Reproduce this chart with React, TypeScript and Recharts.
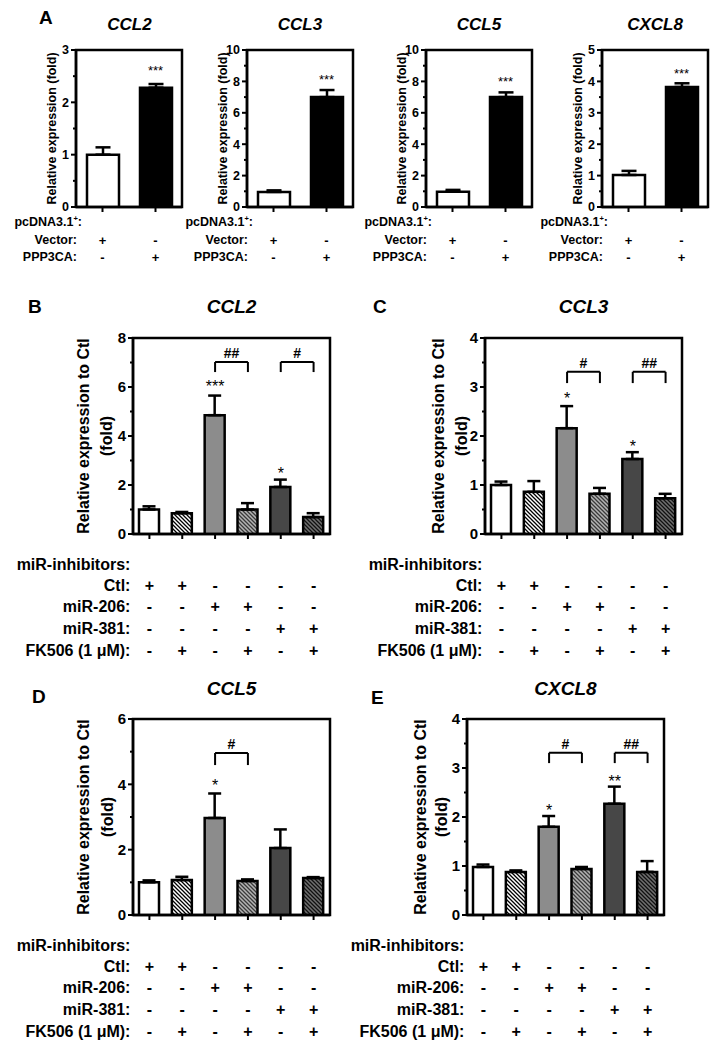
import React from 'react';
import {
  ComposedChart,
  Bar,
  Cell,
  ErrorBar,
  XAxis,
  YAxis,
  Scatter,
  ReferenceLine,
  ReferenceArea,
} from 'recharts';

const FONT = '"Liberation Sans", Arial, Helvetica, sans-serif';

// ---------- Panel A (pcDNA3.1+ vector vs PPP3CA) ----------
const aNames = ['Vector', 'PPP3CA'];
const aVectorSigns = ['+', '-'];
const aPppSigns = ['-', '+'];
const aStars = ['', '***'];

const aCcl2Mean = [1.0, 2.28];
const aCcl2Err = [0.14, 0.07];
const aCcl2StarY = [null, 2.66];
const aCcl2Ticks = [0, 0.5, 1, 1.5, 2, 2.5, 3];
const aCcl2Labels = [0, 1, 2, 3];

const aCcl3Mean = [0.96, 7.0];
const aCcl3Err = [0.1, 0.45];
const aCcl3StarY = [null, 8.28];

const aCcl5Mean = [0.97, 7.0];
const aCcl5Err = [0.12, 0.3];
const aCcl5StarY = [null, 8.15];

const aTenTicks = [0, 1, 2, 3, 4, 5, 6, 7, 8, 9, 10];
const aTenLabels = [0, 2, 4, 6, 8, 10];

const aCxcl8Mean = [1.02, 3.82];
const aCxcl8Err = [0.13, 0.12];
const aCxcl8StarY = [null, 4.33];
const aCxcl8Ticks = [0, 0.5, 1, 1.5, 2, 2.5, 3, 3.5, 4, 4.5, 5];
const aCxcl8Labels = [0, 1, 2, 3, 4, 5];

// ---------- Panels B-E (miR inhibitors +/- FK506) ----------
const groups = ['Ctl', 'Ctl+FK506', 'miR-206', 'miR-206+FK506', 'miR-381', 'miR-381+FK506'];
const ctlSigns = ['+', '+', '-', '-', '-', '-'];
const mir206Signs = ['-', '-', '+', '+', '-', '-'];
const mir381Signs = ['-', '-', '-', '-', '+', '+'];
const fkSigns = ['-', '+', '-', '+', '-', '+'];

// B: CCL2
const ccl2Mean = [1.0, 0.85, 4.85, 1.0, 1.92, 0.69];
const ccl2Err = [0.13, 0.05, 0.8, 0.26, 0.3, 0.16];
const ccl2Stars = ['', '', '***', '', '*', ''];
const ccl2StarY = [null, null, 6.16, null, 2.61, null];
const ccl2Brackets = [
  { from: 2, to: 3, top: 7.02, leg: 6.61, text: '##' },
  { from: 4, to: 5, top: 7.02, leg: 6.61, text: '#' },
];
const ccl2Ticks = [0, 1, 2, 3, 4, 5, 6, 7, 8];
const ccl2Labels = [0, 2, 4, 6, 8];

// C: CCL3
const ccl3Mean = [1.0, 0.86, 2.16, 0.82, 1.53, 0.73];
const ccl3Err = [0.07, 0.22, 0.45, 0.12, 0.14, 0.09];
const ccl3Stars = ['', '', '*', '', '*', ''];
const ccl3StarY = [null, null, 2.84, null, 1.86, null];
const ccl3Brackets = [
  { from: 2, to: 3, top: 3.31, leg: 3.08, text: '#' },
  { from: 4, to: 5, top: 3.31, leg: 3.08, text: '##' },
];

// D: CCL5
const ccl5Mean = [1.0, 1.07, 2.97, 1.04, 2.05, 1.13];
const ccl5Err = [0.06, 0.1, 0.75, 0.05, 0.57, 0.03];
const ccl5Stars = ['', '', '*', '', '', ''];
const ccl5StarY = [null, null, 4.07, null, null, null];
const ccl5Brackets = [{ from: 2, to: 3, top: 4.96, leg: 4.59, text: '#' }];
const ccl5Ticks = [0, 1, 2, 3, 4, 5, 6];
const ccl5Labels = [0, 2, 4, 6];

// E: CXCL8
const cxcl8Mean = [0.98, 0.88, 1.8, 0.94, 2.27, 0.88];
const cxcl8Err = [0.05, 0.03, 0.22, 0.04, 0.35, 0.22];
const cxcl8Stars = ['', '', '*', '', '**', ''];
const cxcl8StarY = [null, null, 2.2, null, 2.8, null];
const cxcl8Brackets = [
  { from: 2, to: 3, top: 3.31, leg: 3.1, text: '#' },
  { from: 4, to: 5, top: 3.31, leg: 3.1, text: '##' },
];

const fourTicks = [0, 0.5, 1, 1.5, 2, 2.5, 3, 3.5, 4];
const fourLabels = [0, 1, 2, 3, 4];

type Row = { label: string; sup?: string; signs?: string[]; dy: number; dx: number };
type Bracket = { from: number; to: number; top: number; leg: number; text: string };

const aRows: Row[] = [
  { label: 'pcDNA3.1', sup: '+', dy: 15, dx: -20.5 },
  { label: 'Vector:', signs: aVectorSigns, dy: 33, dx: -25.5 },
  { label: 'PPP3CA:', signs: aPppSigns, dy: 50, dx: -25.5 },
];

const bigRows: Row[] = [
  { label: 'miR-inhibitors:', dy: 30, dx: -19 },
  { label: 'Ctl:', signs: ctlSigns, dy: 51, dx: -19 },
  { label: 'miR-206:', signs: mir206Signs, dy: 72, dx: -19 },
  { label: 'miR-381:', signs: mir381Signs, dy: 94, dx: -19 },
  { label: 'FK506 (1 \u03bcM):', signs: fkSigns, dy: 116, dx: -19 },
];

interface PanelProps {
  id: string;
  left: number;
  top: number;
  width: number;
  height: number;
  marginTop: number;
  marginRight: number;
  yWidth: number;
  xHeight: number;
  names: string[];
  mean: number[];
  err: number[];
  stars: string[];
  starY: (number | null)[];
  fills: string[];
  brackets?: Bracket[];
  yMax: number;
  yTicks: number[];
  yLabels: number[];
  yTitle: string[];
  yTitleDx: number[];
  rows: Row[];
  barSize: number;
  cap: number;
  big: boolean;
}

const hatchFills = (id: string) => [
  '#ffffff',
  `url(#${id}-hw)`,
  '#8c8c8c',
  `url(#${id}-hg)`,
  '#474747',
  `url(#${id}-hd)`,
];

function Panel(p: PanelProps) {
  const fs = p.big ? 16 : 12.5;
  const tickFs = p.big ? 15 : 12.5;
  const signFs = p.big ? 16 : 13;
  const starFs = p.big ? 16 : 13;
  const txt = { fontFamily: FONT, fontWeight: 700, fill: '#000' };

  const data = p.names.map((name, i) => ({
    name,
    mean: p.mean[i],
    err: [0, p.err[i]],
    star: p.stars[i],
    starY: p.starY[i],
  }));

  const renderXTick = (t: any) => {
    const { x, y, index } = t;
    return (
      <g>
        <line x1={x} x2={x} y1={y} y2={y + 5} stroke="#000" strokeWidth={2} />
        {p.rows.map((r, k) =>
          r.signs ? (
            <text key={k} x={x} y={y + r.dy} dy="0.35em" textAnchor="middle" fontSize={signFs} {...txt}>
              {r.signs[index]}
            </text>
          ) : null
        )}
        {index === 0 &&
          p.rows.map((r, k) => (
            <text key={'l' + k} x={x + r.dx} y={y + r.dy} dy="0.35em" textAnchor="end" fontSize={fs} {...txt}>
              {r.label}
              {r.sup ? (
                <tspan dy={-fs * 0.4} fontSize={fs * 0.6}>
                  {r.sup}
                </tspan>
              ) : null}
              {r.sup ? <tspan dy={fs * 0.4}>:</tspan> : null}
            </text>
          ))}
      </g>
    );
  };

  const renderYTick = (t: any) => {
    const { x, y, payload } = t;
    const major = p.yLabels.includes(payload.value);
    const len = major ? 5 : 3;
    return (
      <g>
        <line x1={x - len} x2={x} y1={y} y2={y} stroke="#000" strokeWidth={2} />
        {major ? (
          <text x={x - len - 2} y={y} dy="0.35em" textAnchor="end" fontSize={tickFs} {...txt}>
            {payload.value}
          </text>
        ) : null}
      </g>
    );
  };

  const renderYTitle = (l: any) => {
    const vb = l.viewBox;
    const ax = vb.x + vb.width;
    const cy = vb.y + vb.height / 2;
    return (
      <g>
        {p.yTitle.map((s, k) => (
          <text
            key={k}
            transform={`translate(${ax + p.yTitleDx[k]},${cy}) rotate(-90)`}
            textAnchor="middle"
            dy="0.35em"
            fontSize={fs}
            {...txt}
          >
            {s}
          </text>
        ))}
      </g>
    );
  };

  const renderStar = (s: any) => {
    const st = s.payload && s.payload.star;
    if (!st || s.cy == null || isNaN(s.cy)) return <g />;
    return (
      <text x={s.cx} y={s.cy} dy={starFs * 0.57} textAnchor="middle" fontSize={starFs} fontFamily={FONT} fill="#000">
        {st}
      </text>
    );
  };

  const line = { stroke: '#000', strokeWidth: 2.5 };

  return (
    <div style={{ position: 'absolute', left: p.left, top: p.top }}>
      <ComposedChart
        width={p.width}
        height={p.height}
        data={data}
        margin={{ top: p.marginTop, right: p.marginRight, left: 0, bottom: 0 }}
      >
        <defs>
          <pattern id={`${p.id}-hw`} patternUnits="userSpaceOnUse" width={4} height={4}>
            <rect width={4} height={4} fill="#ffffff" />
            <path d="M-1,-1 L5,5 M-1,3 L1,5 M3,-1 L5,1" stroke="#000" strokeWidth={1.3} />
          </pattern>
          <pattern id={`${p.id}-hg`} patternUnits="userSpaceOnUse" width={4} height={4}>
            <rect width={4} height={4} fill="#b4b4b4" />
            <path d="M-1,-1 L5,5 M-1,3 L1,5 M3,-1 L5,1" stroke="#3a3a3a" strokeWidth={1.3} />
          </pattern>
          <pattern id={`${p.id}-hd`} patternUnits="userSpaceOnUse" width={4} height={4}>
            <rect width={4} height={4} fill="#707070" />
            <path d="M-1,-1 L5,5 M-1,3 L1,5 M3,-1 L5,1" stroke="#111" strokeWidth={1.3} />
          </pattern>
        </defs>
        <XAxis
          dataKey="name"
          height={p.xHeight}
          axisLine={line}
          tickLine={false}
          tickSize={0}
          tickMargin={0}
          interval={0}
          tick={renderXTick}
        />
        <YAxis
          type="number"
          domain={[0, p.yMax]}
          allowDataOverflow
          ticks={p.yTicks}
          interval={0}
          width={p.yWidth}
          axisLine={line}
          tickLine={false}
          tickSize={0}
          tickMargin={0}
          tick={renderYTick}
          label={renderYTitle}
        />
        <ReferenceArea y1={0} y2={p.yMax} fill="none" stroke="#000" strokeWidth={2.5} ifOverflow="visible" />
        <Bar dataKey="mean" barSize={p.barSize} stroke="#000" strokeWidth={2.5} isAnimationActive={false}>
          {data.map((d, i) => (
            <Cell key={d.name} fill={p.fills[i]} />
          ))}
          <ErrorBar dataKey="err" width={p.cap} strokeWidth={2.5} stroke="#000" direction="y" />
        </Bar>
        <Scatter dataKey="starY" isAnimationActive={false} shape={renderStar} />
        {(p.brackets || []).flatMap((b, k) => [
          <ReferenceLine
            key={`${k}a`}
            segment={[
              { x: p.names[b.from], y: b.leg },
              { x: p.names[b.from], y: b.top },
            ]}
            stroke="#000"
            strokeWidth={2}
          />,
          <ReferenceLine
            key={`${k}b`}
            segment={[
              { x: p.names[b.from], y: b.top },
              { x: p.names[b.to], y: b.top },
            ]}
            stroke="#000"
            strokeWidth={2}
            label={{ value: b.text, position: 'top', offset: 4, fontSize: 14, fontWeight: 700, fill: '#000', fontFamily: FONT }}
          />,
          <ReferenceLine
            key={`${k}c`}
            segment={[
              { x: p.names[b.to], y: b.top },
              { x: p.names[b.to], y: b.leg },
            ]}
            stroke="#000"
            strokeWidth={2}
          />,
        ])}
      </ComposedChart>
    </div>
  );
}

const Title = ({ text, x, y, fs }: { text: string; x: number; y: number; fs: number }) => (
  <div
    style={{
      position: 'absolute',
      left: x,
      top: y,
      transform: 'translate(-50%, -50%)',
      fontFamily: FONT,
      fontWeight: 700,
      fontStyle: 'italic',
      fontSize: fs,
      lineHeight: 1,
      whiteSpace: 'nowrap',
    }}
  >
    {text}
  </div>
);

const Letter = ({ text, x, y }: { text: string; x: number; y: number }) => (
  <div
    style={{
      position: 'absolute',
      left: x,
      top: y,
      transform: 'translateY(-50%)',
      fontFamily: FONT,
      fontWeight: 700,
      fontSize: 19,
      lineHeight: 1,
    }}
  >
    {text}
  </div>
);

export default function App() {
  const aFills = ['#ffffff', '#000000'];
  const aCommon = {
    top: 0,
    width: 212,
    height: 270,
    marginTop: 50,
    marginRight: 6,
    yWidth: 100,
    xHeight: 63,
    names: aNames,
    stars: aStars,
    fills: aFills,
    yTitle: ['Relative expression (fold)'],
    yTitleDx: [-24],
    rows: aRows,
    barSize: 32,
    cap: 7.5,
    big: false,
  };
  const bigCommon = {
    marginRight: 8,
    xHeight: 130,
    names: groups,
    yTitle: ['Relative expression to Ctl', '(fold)'],
    rows: bigRows,
    barSize: 20,
    cap: 6.5,
    big: true,
  };

  return (
    <div style={{ position: 'absolute', left: 0, top: 0, width: 718, height: 1050, background: '#fff', overflow: 'hidden' }}>
      <Panel {...aCommon} id="a1" left={-24} mean={aCcl2Mean} err={aCcl2Err} starY={aCcl2StarY} yMax={3} yTicks={aCcl2Ticks} yLabels={aCcl2Labels} />
      <Panel {...aCommon} id="a2" left={147} mean={aCcl3Mean} err={aCcl3Err} starY={aCcl3StarY} yMax={10} yTicks={aTenTicks} yLabels={aTenLabels} />
      <Panel {...aCommon} id="a3" left={326} mean={aCcl5Mean} err={aCcl5Err} starY={aCcl5StarY} yMax={10} yTicks={aTenTicks} yLabels={aTenLabels} />
      <Panel {...aCommon} id="a4" left={502} mean={aCxcl8Mean} err={aCxcl8Err} starY={aCxcl8StarY} yMax={5} yTicks={aCxcl8Ticks} yLabels={aCxcl8Labels} />

      <Panel {...bigCommon} id="b" left={0} top={320} width={338} height={344} marginTop={18} yWidth={133}
        mean={ccl2Mean} err={ccl2Err} stars={ccl2Stars} starY={ccl2StarY} brackets={ccl2Brackets}
        fills={hatchFills('b')} yMax={8} yTicks={ccl2Ticks} yLabels={ccl2Labels} yTitleDx={[-50, -27]} />
      <Panel {...bigCommon} id="c" left={360} top={320} width={330} height={344} marginTop={18} yWidth={125}
        mean={ccl3Mean} err={ccl3Err} stars={ccl3Stars} starY={ccl3StarY} brackets={ccl3Brackets}
        fills={hatchFills('c')} yMax={4} yTicks={fourTicks} yLabels={fourLabels} yTitleDx={[-47, -24]} />
      <Panel {...bigCommon} id="d" left={0} top={700} width={338} height={345} marginTop={19} yWidth={133}
        mean={ccl5Mean} err={ccl5Err} stars={ccl5Stars} starY={ccl5StarY} brackets={ccl5Brackets}
        fills={hatchFills('d')} yMax={6} yTicks={ccl5Ticks} yLabels={ccl5Labels} yTitleDx={[-50, -26]} />
      <Panel {...bigCommon} id="e" left={347} top={700} width={325} height={345} marginTop={19} yWidth={120}
        mean={cxcl8Mean} err={cxcl8Err} stars={cxcl8Stars} starY={cxcl8StarY} brackets={cxcl8Brackets}
        fills={hatchFills('e')} yMax={4} yTicks={fourTicks} yLabels={fourLabels} yTitleDx={[-47, -26]} />

      <Letter text="A" x={39} y={17} />
      <Title text="CCL2" x={129.5} y={24} fs={17} />
      <Title text="CCL3" x={300} y={24} fs={17} />
      <Title text="CCL5" x={479} y={24} fs={17} />
      <Title text="CXCL8" x={655} y={24} fs={17} />

      <Letter text="B" x={28} y={306} />
      <Title text="CCL2" x={231.5} y={306} fs={19} />
      <Letter text="C" x={373} y={306} />
      <Title text="CCL3" x={583.5} y={306} fs={19} />
      <Letter text="D" x={32} y={696} />
      <Title text="CCL5" x={231.5} y={688} fs={19} />
      <Letter text="E" x={371} y={697} />
      <Title text="CXCL8" x={565.5} y={688} fs={19} />
    </div>
  );
}
